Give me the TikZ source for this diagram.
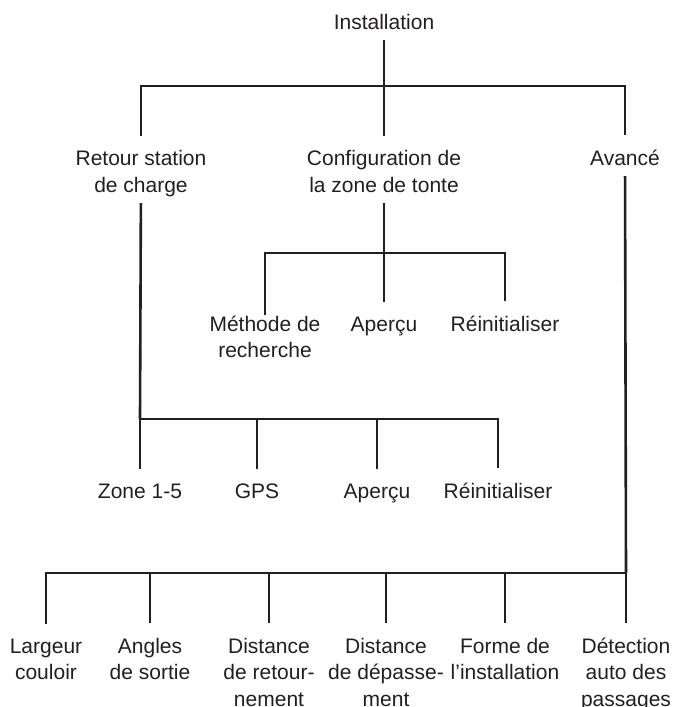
\documentclass[tikz,border=0pt]{standalone}
\usepackage{fontspec}
\setmainfont{Liberation Sans}
\usepackage{xcolor}
\definecolor{ink}{RGB}{35,31,32}

\begin{document}
\begin{tikzpicture}[x=0.5pt,y=-0.5pt,
  lbl/.style={inner sep=0pt,align=center,anchor=base,text depth=0.22em,text=ink,
    font=\fontsize{10.5pt}{13.3pt}\selectfont},
  tree/.style={draw=ink,line width=1.3pt},
  down/.style={shorten >=7pt},
  up/.style={shorten <=3.2pt}]
\useasboundingbox (0,0) rectangle (675,707);
% top level (base = last line)
\node[lbl] (inst) at (384,29) {Installation};
\node[lbl] (retour) at (141,192) {Retour station\\de charge};
\node[lbl] (config) at (384,192) {Configuration de\\la zone de tonte};
\node[lbl] (avance) at (625,165) {Avancé};
% under configuration
\node[lbl] (methode) at (265,357.6) {Méthode de\\recherche};
\node[lbl] (apercuA) at (384,331) {Aperçu};
\node[lbl] (reinitA) at (505,331) {Réinitialiser};
% under retour station
\node[lbl] (zone) at (140,498) {Zone 1-5};
\node[lbl] (gps) at (257,498) {GPS};
\node[lbl] (apercuB) at (377,498) {Aperçu};
\node[lbl] (reinitB) at (498,498) {Réinitialiser};
% under avance
\node[lbl] (largeur) at (46,679.6) {Largeur\\couloir};
\node[lbl] (angles) at (150,679.6) {Angles\\de sortie};
\node[lbl] (retourn) at (269,706.2) {Distance\\de retour-\\nement};
\node[lbl] (depass) at (386,706.2) {Distance\\de dépasse-\\ment};
\node[lbl] (forme) at (505,679.6) {Forme de\\l'installation};
\node[lbl] (detect) at (626,706.2) {Détection\\auto des\\passages};
% junctions
\coordinate (j0) at (384,86);
\coordinate (j1) at (384,253);
\coordinate (j2) at (140,419);
\coordinate (j3) at (626,573);
% connectors
\draw[tree,up] (inst) -- (j0);
\draw[tree,down,shorten <=7pt] (retour) |- (j0) -| (avance);
\draw[tree,down] (j0) -- (config);
\draw[tree,up] (config) -- (j1);
\draw[tree,down] (methode) |- (j1) -| (reinitA);
\draw[tree,down] (j1) -- (apercuA);
\draw[tree,up] (retour) -- (j2);
\draw[tree,down] (j2) -- (zone);
\draw[tree,down] (j2) -| (gps);
\draw[tree,down] (j2) -| (apercuB);
\draw[tree,down] (j2) -| (reinitB);
\draw[tree,up] (avance) -- (j3);
\draw[tree,down] (j3) -- (detect);
\foreach \n in {largeur,angles,retourn,depass,forme}
  \draw[tree,down] (j3) -| (\n);
\end{tikzpicture}
\end{document}
